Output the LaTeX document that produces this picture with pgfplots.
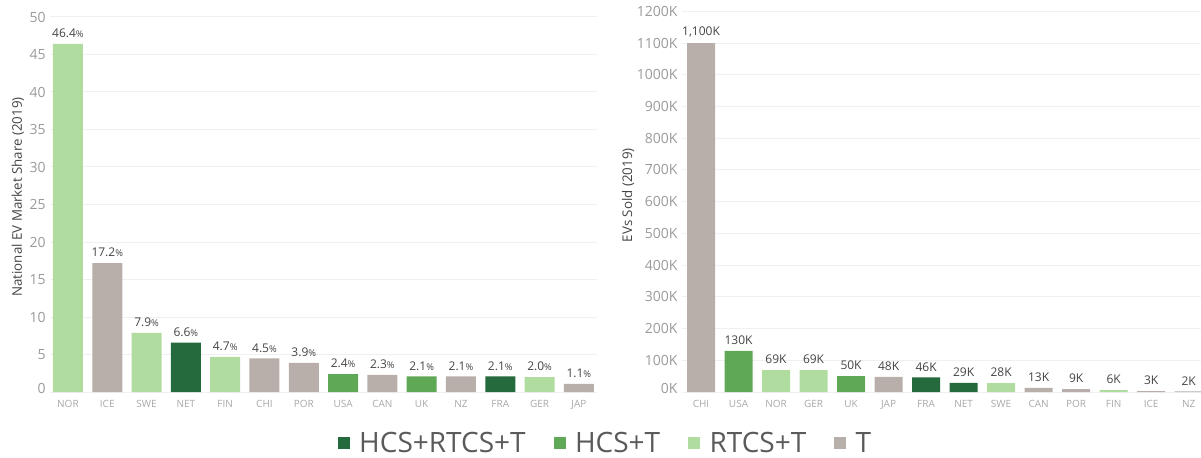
\documentclass[border=0pt]{standalone}
\usepackage{fontspec}
\setmainfont{Open Sans}
\usepackage{pgfplots}
\pgfplotsset{compat=1.18}
\definecolor{cDark}{HTML}{246A3D}
\definecolor{cMed}{HTML}{5FA855}
\definecolor{cLight}{HTML}{B0DCA0}
\definecolor{cGray}{HTML}{B9AFAA}
\definecolor{gridc}{HTML}{F0F0F0}
\definecolor{tickc}{HTML}{9A9A9A}
\definecolor{xtickc}{HTML}{A8A8A8}
\definecolor{labc}{HTML}{444444}
\definecolor{legc}{HTML}{5A5A5A}

\pgfplotsset{
  sqlegend/.style={legend image code/.code={\fill[##1] (0pt,-4.5pt) rectangle (9pt,4.5pt);}},
  evbase/.style={
    scale only axis, ybar, bar shift=0pt, ymin=0,
    axis line style={draw=none},
    major tick length=0pt, tick style={draw=none},
    ymajorgrids, grid style={gridc, line width=0.75pt},
    xtick={0,...,13},
    x tick label style={font=\fontsize{7.5}{9}\selectfont, text=xtickc, yshift=-3pt},
    y tick label style={font=\fontsize{10.5}{12}\selectfont, text=tickc},
    ylabel style={font=\fontsize{10}{12}\selectfont, text=labc, anchor=center},
    /pgf/number format/assume math mode=true,
    nodes near coords style={font=\fontsize{9}{10}\selectfont, text=labc, yshift=1pt},
  },
}

\begin{document}
\begin{tikzpicture}
\path[use as bounding box] (0pt,0pt) rectangle (900.75pt,342.75pt);

% Left: market share
\begin{axis}[evbase,
  at={(37.7pt,48.75pt)}, anchor=south west,
  width=409.7pt, height=281.25pt,
  xmin=-0.45, xmax=13.45, ymax=50,
  bar width=22.5pt,
  ytick={0,5,...,50},
  yticklabels={\raisebox{6pt}{0},5,10,15,20,25,30,35,40,45,50},
  xticklabels={NOR,ICE,SWE,NET,FIN,CHI,POR,USA,CAN,UK,NZ,FRA,GER,JAP},
  ylabel={National EV Market Share (2019)},
  ylabel style={at={(axis description cs:-0.0591,0.52)}},
  nodes near coords={\pgfmathprintnumber[fixed,fixed zerofill,precision=1]{\pgfplotspointmeta}{\fontsize{7}{8}\selectfont\%}},
  legend columns=4,
  legend style={at={(axis description cs:1.017,-0.136)}, anchor=center,
    draw=none, fill=none, font=\fontsize{21}{25}\selectfont, text=legc,
    /tikz/every even column/.append style={column sep=19pt},
    /tikz/every odd column/.append style={column sep=5pt}},
]
\addplot[bar shift=0pt, sqlegend, fill=cDark, draw=none] coordinates {(3,6.6) (11,2.1)};
\addlegendentry{HCS+RTCS+T}
\addplot[bar shift=0pt, sqlegend, fill=cMed, draw=none] coordinates {(7,2.4) (9,2.1)};
\addlegendentry{HCS+T}
\addplot[bar shift=0pt, sqlegend, fill=cLight, draw=none] coordinates {(0,46.4) (2,7.9) (4,4.7) (12,2.0)};
\addlegendentry{RTCS+T}
\addplot[bar shift=0pt, sqlegend, fill=cGray, draw=none] coordinates {(1,17.2) (5,4.5) (6,3.9) (8,2.3) (10,2.1) (13,1.1)};
\addlegendentry{T}
\end{axis}

% Right: EVs sold (thousands)
\begin{axis}[evbase,
  at={(511.69pt,48.75pt)}, anchor=south west,
  width=389.06pt, height=285.5pt,
  xmin=-0.5, xmax=13.33, ymax=1200,
  bar width=21pt,
  ytick={0,100,...,1200},
  yticklabels={\raisebox{6pt}{0K},100K,200K,300K,400K,500K,600K,700K,800K,900K,1000K,1100K,\raisebox{-5.5pt}{1200K}},
  xticklabels={CHI,USA,NOR,GER,UK,JAP,FRA,NET,SWE,CAN,POR,FIN,ICE,NZ},
  ylabel={EVs Sold (2019)},
  ylabel style={at={(axis description cs:-0.1046,0.517)}},
  nodes near coords={\pgfmathprintnumber[fixed,precision=0,1000 sep={,}]{\pgfplotspointmeta}K},
]
\addplot[bar shift=0pt, fill=cGray, draw=none] coordinates {(0,1100) (5,48) (9,13) (10,9) (12,3) (13,2)};
\addplot[bar shift=0pt, fill=cMed, draw=none] coordinates {(1,130) (4,50)};
\addplot[bar shift=0pt, fill=cLight, draw=none] coordinates {(2,69) (3,69) (8,28) (11,6)};
\addplot[bar shift=0pt, fill=cDark, draw=none] coordinates {(6,46) (7,29)};
\end{axis}
\end{tikzpicture}
\end{document}
